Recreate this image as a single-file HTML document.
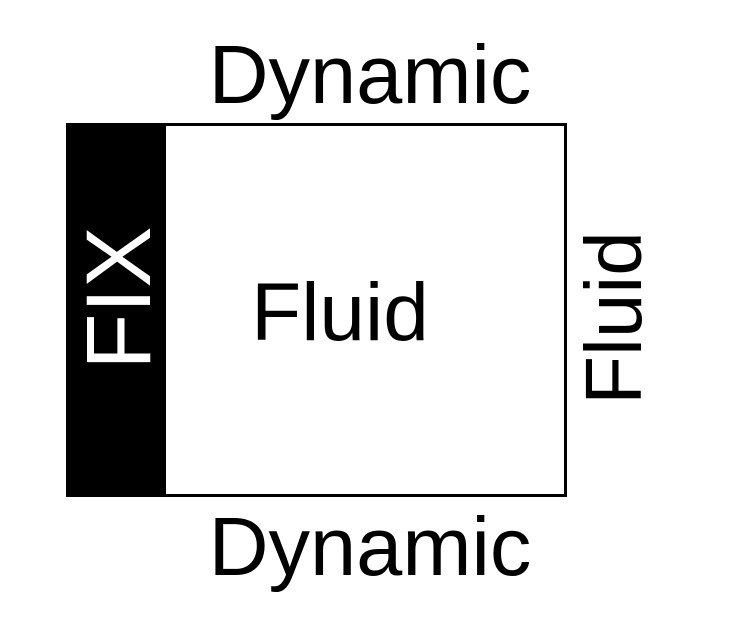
<!DOCTYPE html>
<html><head><meta charset="utf-8"><style>
html,body{margin:0;padding:0;background:#fff;}
svg{display:block;}
text{font-family:"Liberation Sans",sans-serif;fill:#000;}
</style></head><body>
<svg width="730" height="631" viewBox="0 0 730 631" xmlns="http://www.w3.org/2000/svg">
<rect x="66" y="123" width="99" height="374" fill="#000"/>
<rect x="164.5" y="124.5" width="401" height="371" fill="none" stroke="#000" stroke-width="3"/>
<text x="370" y="103" font-size="83" text-anchor="middle">Dynamic</text>
<text x="370" y="575" font-size="83" text-anchor="middle">Dynamic</text>
<text x="340" y="340" font-size="82" text-anchor="middle">Fluid</text>
<text transform="translate(150,298) rotate(-90)" font-size="92" text-anchor="middle" style="fill:#fff">FIX</text>
<text transform="translate(641,318) rotate(-90)" font-size="80" text-anchor="middle">Fluid</text>
</svg>
</body></html>
